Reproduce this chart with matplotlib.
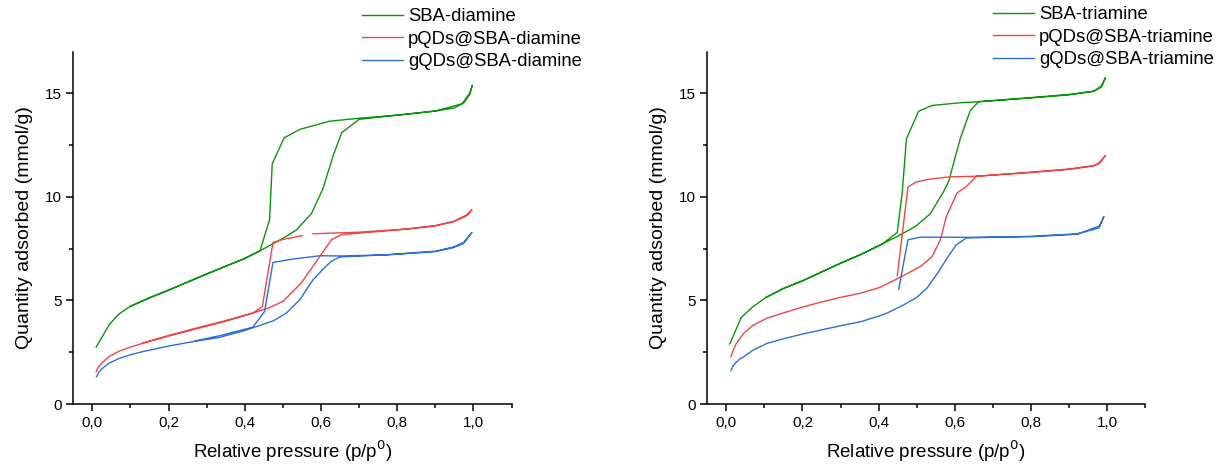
import numpy as np
from matplotlib import pyplot as plt
from matplotlib.ticker import MultipleLocator, FuncFormatter

nan = np.nan

# SBA-diamine panel: adsorption branch followed by desorption branch
sba_di_x = [0.01, 0.045, 0.07, 0.1, 0.15, 0.2, 0.3, 0.4, 0.44, 0.475, 0.5, 0.535, 0.575, 0.605, 0.632, 0.654, 0.7,
            0.8, 0.9, 0.95, 0.975, 0.99, 0.997,
            0.99, 0.97, 0.9, 0.8, 0.7, 0.623, 0.544, 0.503, 0.472, 0.465, 0.44, 0.4, 0.3, 0.2, 0.15, 0.1]
sba_di_y = [2.75, 3.85, 4.35, 4.72, 5.13, 5.5, 6.28, 7.03, 7.4, 7.75, 8.0, 8.4, 9.2, 10.4, 12.0, 13.1, 13.75,
            13.95, 14.15, 14.3, 14.55, 14.95, 15.4,
            15.0, 14.5, 14.15, 13.95, 13.8, 13.66, 13.26, 12.85, 11.6, 8.9, 7.4, 7.03, 6.28, 5.5, 5.13, 4.72]

pqd_di_x = [0.01, 0.016, 0.025, 0.035, 0.044, 0.07, 0.1, 0.132, 0.2, 0.263, 0.35, 0.42, 0.46, 0.5, 0.548,
            0.597, 0.627, 0.654, 0.75, 0.825, 0.9, 0.947, 0.983, 0.996,
            0.983, 0.947, 0.9, 0.825, 0.7, 0.579, nan, 0.551, 0.5, 0.474, 0.446, 0.421, 0.35, 0.263, 0.2, 0.132]
pqd_di_y = [1.56, 1.78, 1.98, 2.15, 2.29, 2.55, 2.75, 2.93, 3.28, 3.58, 4.0, 4.39, 4.62, 4.95, 5.84,
            7.13, 7.93, 8.18, 8.33, 8.45, 8.62, 8.82, 9.14, 9.39,
            9.1, 8.8, 8.6, 8.45, 8.3, 8.22, nan, 8.13, 7.95, 7.8, 4.71, 4.39, 4.03, 3.62, 3.31, 2.95]

gqd_di_x = [0.011, 0.017, 0.025, 0.035, 0.044, 0.07, 0.1, 0.132, 0.2, 0.263, 0.334, 0.4, 0.44, 0.475, 0.509,
            0.544, 0.579, 0.61, 0.627, 0.649, 0.772, 0.9, 0.947, 0.974, 0.996,
            0.974, 0.947, 0.9, 0.772, 0.65, 0.597, 0.526, 0.474, 0.452, 0.421, 0.334, 0.27]
gqd_di_y = [1.32, 1.52, 1.7, 1.85, 1.97, 2.2, 2.38, 2.53, 2.8, 3.01, 3.22, 3.55, 3.8, 4.02, 4.39,
            5.03, 6.0, 6.6, 6.89, 7.1, 7.21, 7.38, 7.58, 7.8, 8.29,
            7.75, 7.55, 7.36, 7.2, 7.15, 7.16, 7.0, 6.84, 4.47, 3.71, 3.3, 3.05]

# SBA-triamine panel
sba_tri_x = [0.009, 0.039, 0.07, 0.105, 0.15, 0.2, 0.3, 0.352, 0.403, 0.413, 0.45, 0.497, 0.536, 0.571, 0.584,
             0.615, 0.641, 0.663, 0.8, 0.9, 0.965, 0.985, 0.996,
             0.985, 0.965, 0.9, 0.8, 0.663, 0.615, 0.541, 0.505, 0.473, 0.462, 0.449, 0.413, 0.352, 0.3,
             0.2, 0.15, 0.105]
sba_tri_y = [2.9, 4.18, 4.7, 5.16, 5.58, 5.95, 6.8, 7.21, 7.66, 7.77, 8.1, 8.58, 9.19, 10.27, 10.75,
             12.85, 14.18, 14.6, 14.8, 14.95, 15.11, 15.35, 15.76,
             15.3, 15.1, 14.93, 14.78, 14.6, 14.55, 14.42, 14.14, 12.8, 10.2, 8.29, 7.77, 7.21, 6.8,
             5.95, 5.58, 5.16]

pqd_tri_x = [0.012, 0.018, 0.025, 0.035, 0.046, 0.07, 0.107, 0.15, 0.2, 0.25, 0.3, 0.352, 0.403, 0.449,
             0.51, 0.541, 0.562, 0.578, 0.606, 0.631, 0.657, 0.8, 0.9, 0.965, 0.979, 0.996,
             0.979, 0.965, 0.9, 0.8, 0.657, 0.584, 0.527, 0.497, 0.477, 0.449]
pqd_tri_y = [2.29, 2.6, 2.88, 3.15, 3.42, 3.8, 4.15, 4.4, 4.68, 4.93, 5.15, 5.35, 5.63, 6.05,
             6.64, 7.13, 7.93, 9.06, 10.19, 10.51, 11.0, 11.2, 11.35, 11.51, 11.64, 12.0,
             11.6, 11.5, 11.33, 11.18, 11.0, 10.97, 10.84, 10.71, 10.48, 6.19]

gqd_tri_x = [0.012, 0.018, 0.025, 0.035, 0.046, 0.07, 0.107, 0.15, 0.2, 0.25, 0.3, 0.352, 0.403, 0.422,
             0.466, 0.501, 0.527, 0.558, 0.58, 0.604, 0.631, 0.8, 0.922, 0.979, 0.992,
             0.98, 0.922, 0.8, 0.631, 0.51, 0.477, 0.453]
gqd_tri_y = [1.61, 1.85, 2.0, 2.17, 2.29, 2.6, 2.93, 3.15, 3.38, 3.58, 3.78, 3.97, 4.26, 4.39,
             4.79, 5.16, 5.6, 6.4, 7.05, 7.69, 8.02, 8.1, 8.22, 8.5, 9.06,
             8.6, 8.2, 8.08, 8.05, 8.06, 7.93, 5.55]

green = '#0a960a'
red = '#f04545'
blue = '#2a6fdc'

plt.rcParams['font.family'] = ['Liberation Sans', 'DejaVu Sans']

fig = plt.figure(figsize=(12.21, 4.66), dpi=100)
ax1 = fig.add_axes([0.0600, 0.1330, 0.3590, 0.7554])
ax2 = fig.add_axes([0.5793, 0.1330, 0.3585, 0.7554])

comma = FuncFormatter(lambda v, p: ('%.1f' % v).replace('.', ','))

panels = [
    (ax1, [(sba_di_x, sba_di_y, green, 'SBA-diamine'),
           (pqd_di_x, pqd_di_y, red, 'pQDs@SBA-diamine'),
           (gqd_di_x, gqd_di_y, blue, 'gQDs@SBA-diamine')], (362 / 1221, 1 - 8 / 466)),
    (ax2, [(sba_tri_x, sba_tri_y, green, 'SBA-triamine'),
           (pqd_tri_x, pqd_tri_y, red, 'pQDs@SBA-triamine'),
           (gqd_tri_x, gqd_tri_y, blue, 'gQDs@SBA-triamine')], (993 / 1221, 1 - 6 / 466)),
]

for ax, series, anchor in panels:
    for x, y, c, lab in series:
        ax.plot(x, y, color=c, lw=1.0, label=lab)
    ax.set_xlim(-0.05, 1.1)
    ax.set_ylim(0, 17)
    ax.spines['top'].set_visible(False)
    ax.spines['right'].set_visible(False)
    for s in ('left', 'bottom'):
        ax.spines[s].set_linewidth(1.1)
    ax.xaxis.set_major_locator(MultipleLocator(0.2))
    ax.xaxis.set_minor_locator(MultipleLocator(0.1))
    ax.yaxis.set_major_locator(MultipleLocator(5))
    ax.yaxis.set_minor_locator(MultipleLocator(2.5))
    ax.xaxis.set_major_formatter(comma)
    ax.tick_params(which='major', direction='out', length=5, width=1.1, labelsize=11)
    ax.tick_params(which='minor', direction='out', length=3, width=1.1)
    ax.set_xlabel('Relative pressure (p/p$^{0}$)', fontsize=13.5, labelpad=6)
    ax.set_ylabel('Quantity adsorbed (mmol/g)', fontsize=14, labelpad=8)
    ax.legend(loc='upper left', bbox_to_anchor=anchor, bbox_transform=fig.transFigure,
              frameon=False, fontsize=13.3, handlelength=2.2, handletextpad=0.3,
              labelspacing=0.3, borderpad=0, borderaxespad=0)

plt.savefig('out.png', dpi=100)
